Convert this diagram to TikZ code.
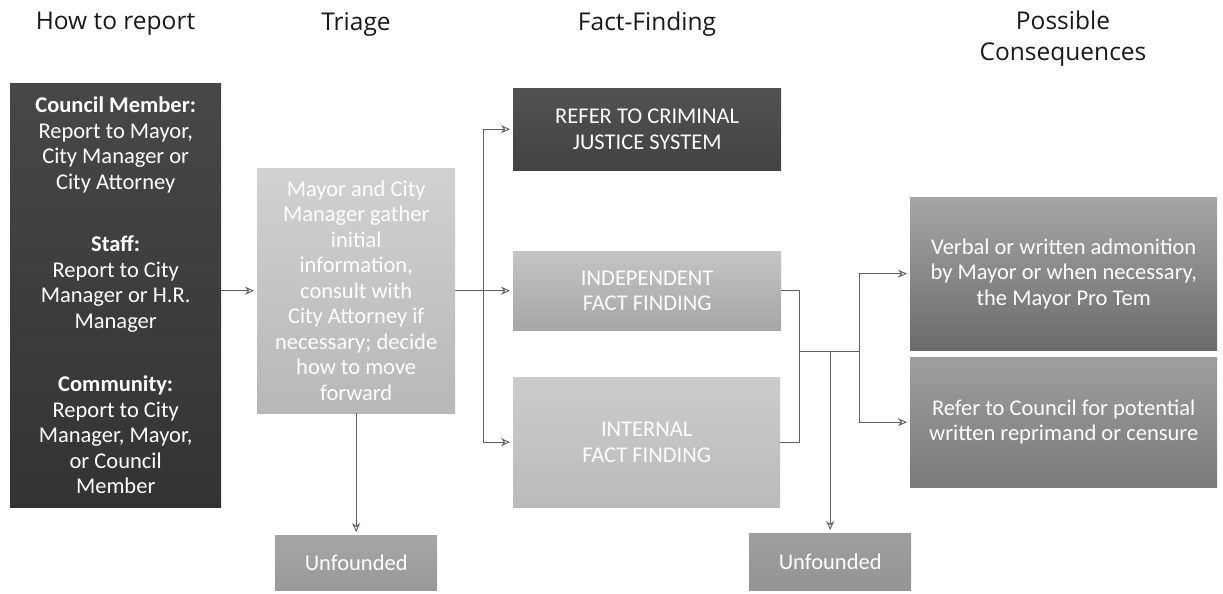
\documentclass[tikz,border=0pt]{standalone}
\usepackage{fontspec}
\setmainfont{Carlito}
\newfontfamily\headfont{Open Sans}
\usetikzlibrary{arrows.meta}
\definecolor{lineg}{HTML}{606060}
\tikzset{
  box/.style={rectangle, inner sep=0pt, anchor=north west, align=center, text=white,
    font=\fontsize{22.5}{25.5}\selectfont},
  head/.style={align=center, text=black!90, inner sep=0pt,
    font=\headfont\fontsize{24.5}{31}\selectfont},
  conn/.style={draw=lineg, line width=0.9pt},
  arr/.style={conn, shorten >=3pt, -{Stealth[open, length=9pt, width=8pt, inset=3pt]}}
}
\begin{document}
\begin{tikzpicture}[x=1pt,y=-1pt]
\useasboundingbox (0,0) rectangle (1223,594);
% headers
\node[head] (h1) at (115.5,24) {How to report};
\node[head] (h2) at (356,24) {Triage};
\node[head] (h3) at (647,24) {Fact-Finding};
\node[head] (h4) at (1063,39) {Possible\\Consequences};
% boxes
\node[box, minimum width=211pt, minimum height=424pt, top color=black!72, bottom color=black!80] (report) at (10,83)
 {\textbf{Council Member:}\\Report to Mayor,\\City Manager or\\City Attorney\\[37pt]
  \textbf{Staff:}\\Report to City\\Manager or H.R.\\Manager\\[38pt]
  \textbf{Community:}\\Report to City\\Manager, Mayor,\\or Council\\Member};
\node[box, minimum width=198pt, minimum height=245pt, top color=black!18, bottom color=black!28] (triage) at (257,168)
 {Mayor and City\\Manager gather\\initial\\information,\\consult with\\City Attorney if\\necessary; decide\\how to move\\forward};
\node[box, minimum width=162pt, minimum height=55pt, top color=black!35, bottom color=black!40] (unf1) at (275,535) {Unfounded};
\node[box, minimum width=268pt, minimum height=82pt, top color=black!68, bottom color=black!74] (crim) at (513,88)
 {REFER TO CRIMINAL\\JUSTICE SYSTEM};
\node[box, minimum width=268pt, minimum height=79pt, top color=black!23, bottom color=black!35] (indep) at (513,251)
 {INDEPENDENT\\FACT FINDING};
\node[box, minimum width=267pt, minimum height=130pt, top color=black!20, bottom color=black!27] (intern) at (513,377)
 {INTERNAL\\FACT FINDING};
\node[box, minimum width=162pt, minimum height=57pt, top color=black!38, bottom color=black!42] (unf2) at (749,533) {Unfounded};
\node[box, minimum width=307pt, minimum height=153pt, top color=black!35, bottom color=black!58] (cons1) at (910,197)
 {Verbal or written admonition\\by Mayor or when necessary,\\the Mayor Pro Tem};
\node[box, minimum width=307pt, minimum height=130pt, top color=black!38, bottom color=black!52] (cons2) at (910,357)
 {Refer to Council for potential\\written reprimand or censure};
% connectors
\coordinate (bx) at (483,0);
\coordinate (cx) at (799,0);
\coordinate (jn) at (799,351);
\coordinate (kx) at (859,351);
\draw[arr] (report.east |- triage.west) -- (triage.west);
\draw[arr] (triage.south) -- (unf1.north);
\draw[arr] (triage.east) -- (indep.west);
\draw[arr] (triage.east -| bx) |- (crim.west);
\draw[arr] (triage.east -| bx) |- (intern.west);
\draw[conn] (indep.east) -- (indep.east -| cx) |- (intern.east);
\draw[conn] (jn) -- (kx);
\draw[arr] (unf2.north |- jn) -- (unf2.north);
\draw[arr] (kx) |- (cons1.west);
\draw[arr] (kx) |- (cons2.west);
\end{tikzpicture}
\end{document}
